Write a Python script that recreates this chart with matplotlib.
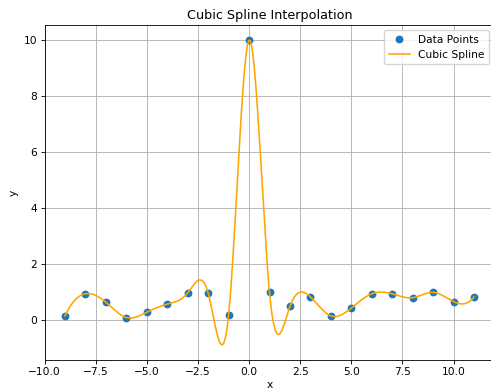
import numpy as np
import matplotlib
matplotlib.use("Agg")
import matplotlib.pyplot as plt

# 資料點
x_data = np.arange(-9, 12)
y_data = np.array([0.14, 0.93, 0.63, 0.08, 0.27, 0.56, 0.96, 0.96, 0.17, 10.0,
                   0.98, 0.48, 0.82, 0.14, 0.42, 0.93, 0.93, 0.79, 0.98, 0.65, 0.82])


def cubic_spline(x, y, xs):
    """not-a-knot 三次樣條（與 scipy CubicSpline 預設相同）"""
    n = len(x)
    h = np.diff(x).astype(float)
    d = np.diff(y) / h
    A = np.zeros((n, n))
    b = np.zeros(n)
    for i in range(1, n - 1):
        A[i, i - 1] = h[i - 1]
        A[i, i] = 2 * (h[i - 1] + h[i])
        A[i, i + 1] = h[i]
        b[i] = 6 * (d[i] - d[i - 1])
    A[0, 0], A[0, 1], A[0, 2] = h[1], -(h[0] + h[1]), h[0]
    A[-1, -3], A[-1, -2], A[-1, -1] = h[-1], -(h[-2] + h[-1]), h[-2]
    M = np.linalg.solve(A, b)

    idx = np.clip(np.searchsorted(x, xs) - 1, 0, n - 2)
    x0, x1 = x[idx], x[idx + 1]
    hh = h[idx]
    m0, m1 = M[idx], M[idx + 1]
    y0, y1 = y[idx], y[idx + 1]
    return (m0 * (x1 - xs) ** 3 / (6 * hh) + m1 * (xs - x0) ** 3 / (6 * hh)
            + (y0 / hh - m0 * hh / 6) * (x1 - xs)
            + (y1 / hh - m1 * hh / 6) * (xs - x0))


x_fine = np.linspace(x_data.min(), x_data.max(), 1000)
y_fine = cubic_spline(x_data.astype(float), y_data, x_fine)

s = 0.767
plt.rcParams["font.size"] = 10 * s

fig = plt.figure(figsize=(4.91, 3.89), dpi=100)
ax = fig.add_axes([44.5 / 491, 29 / 389, 450 / 491, 335 / 389])

ax.plot(x_data, y_data, "o", color="C0", markersize=6 * s, label="Data Points")
ax.plot(x_fine, y_fine, color="orange", linewidth=1.5 * s, label="Cubic Spline")

ax.set_xlim(-10, 12)
ax.set_title("Cubic Spline Interpolation", fontsize=12 * s, pad=6 * s)
ax.set_xlabel("x", labelpad=1.5)
ax.set_ylabel("y", labelpad=4 * s)
ax.grid(True, linewidth=0.8 * s)
ax.legend(loc="upper right", borderaxespad=0.5, handlelength=2.0)
for sp in ax.spines.values():
    sp.set_linewidth(0.8 * s)
ax.tick_params(width=0.8 * s, length=3.5 * s, pad=3.5 * s)

fig.savefig("out.png", dpi=100)
plt.close(fig)
